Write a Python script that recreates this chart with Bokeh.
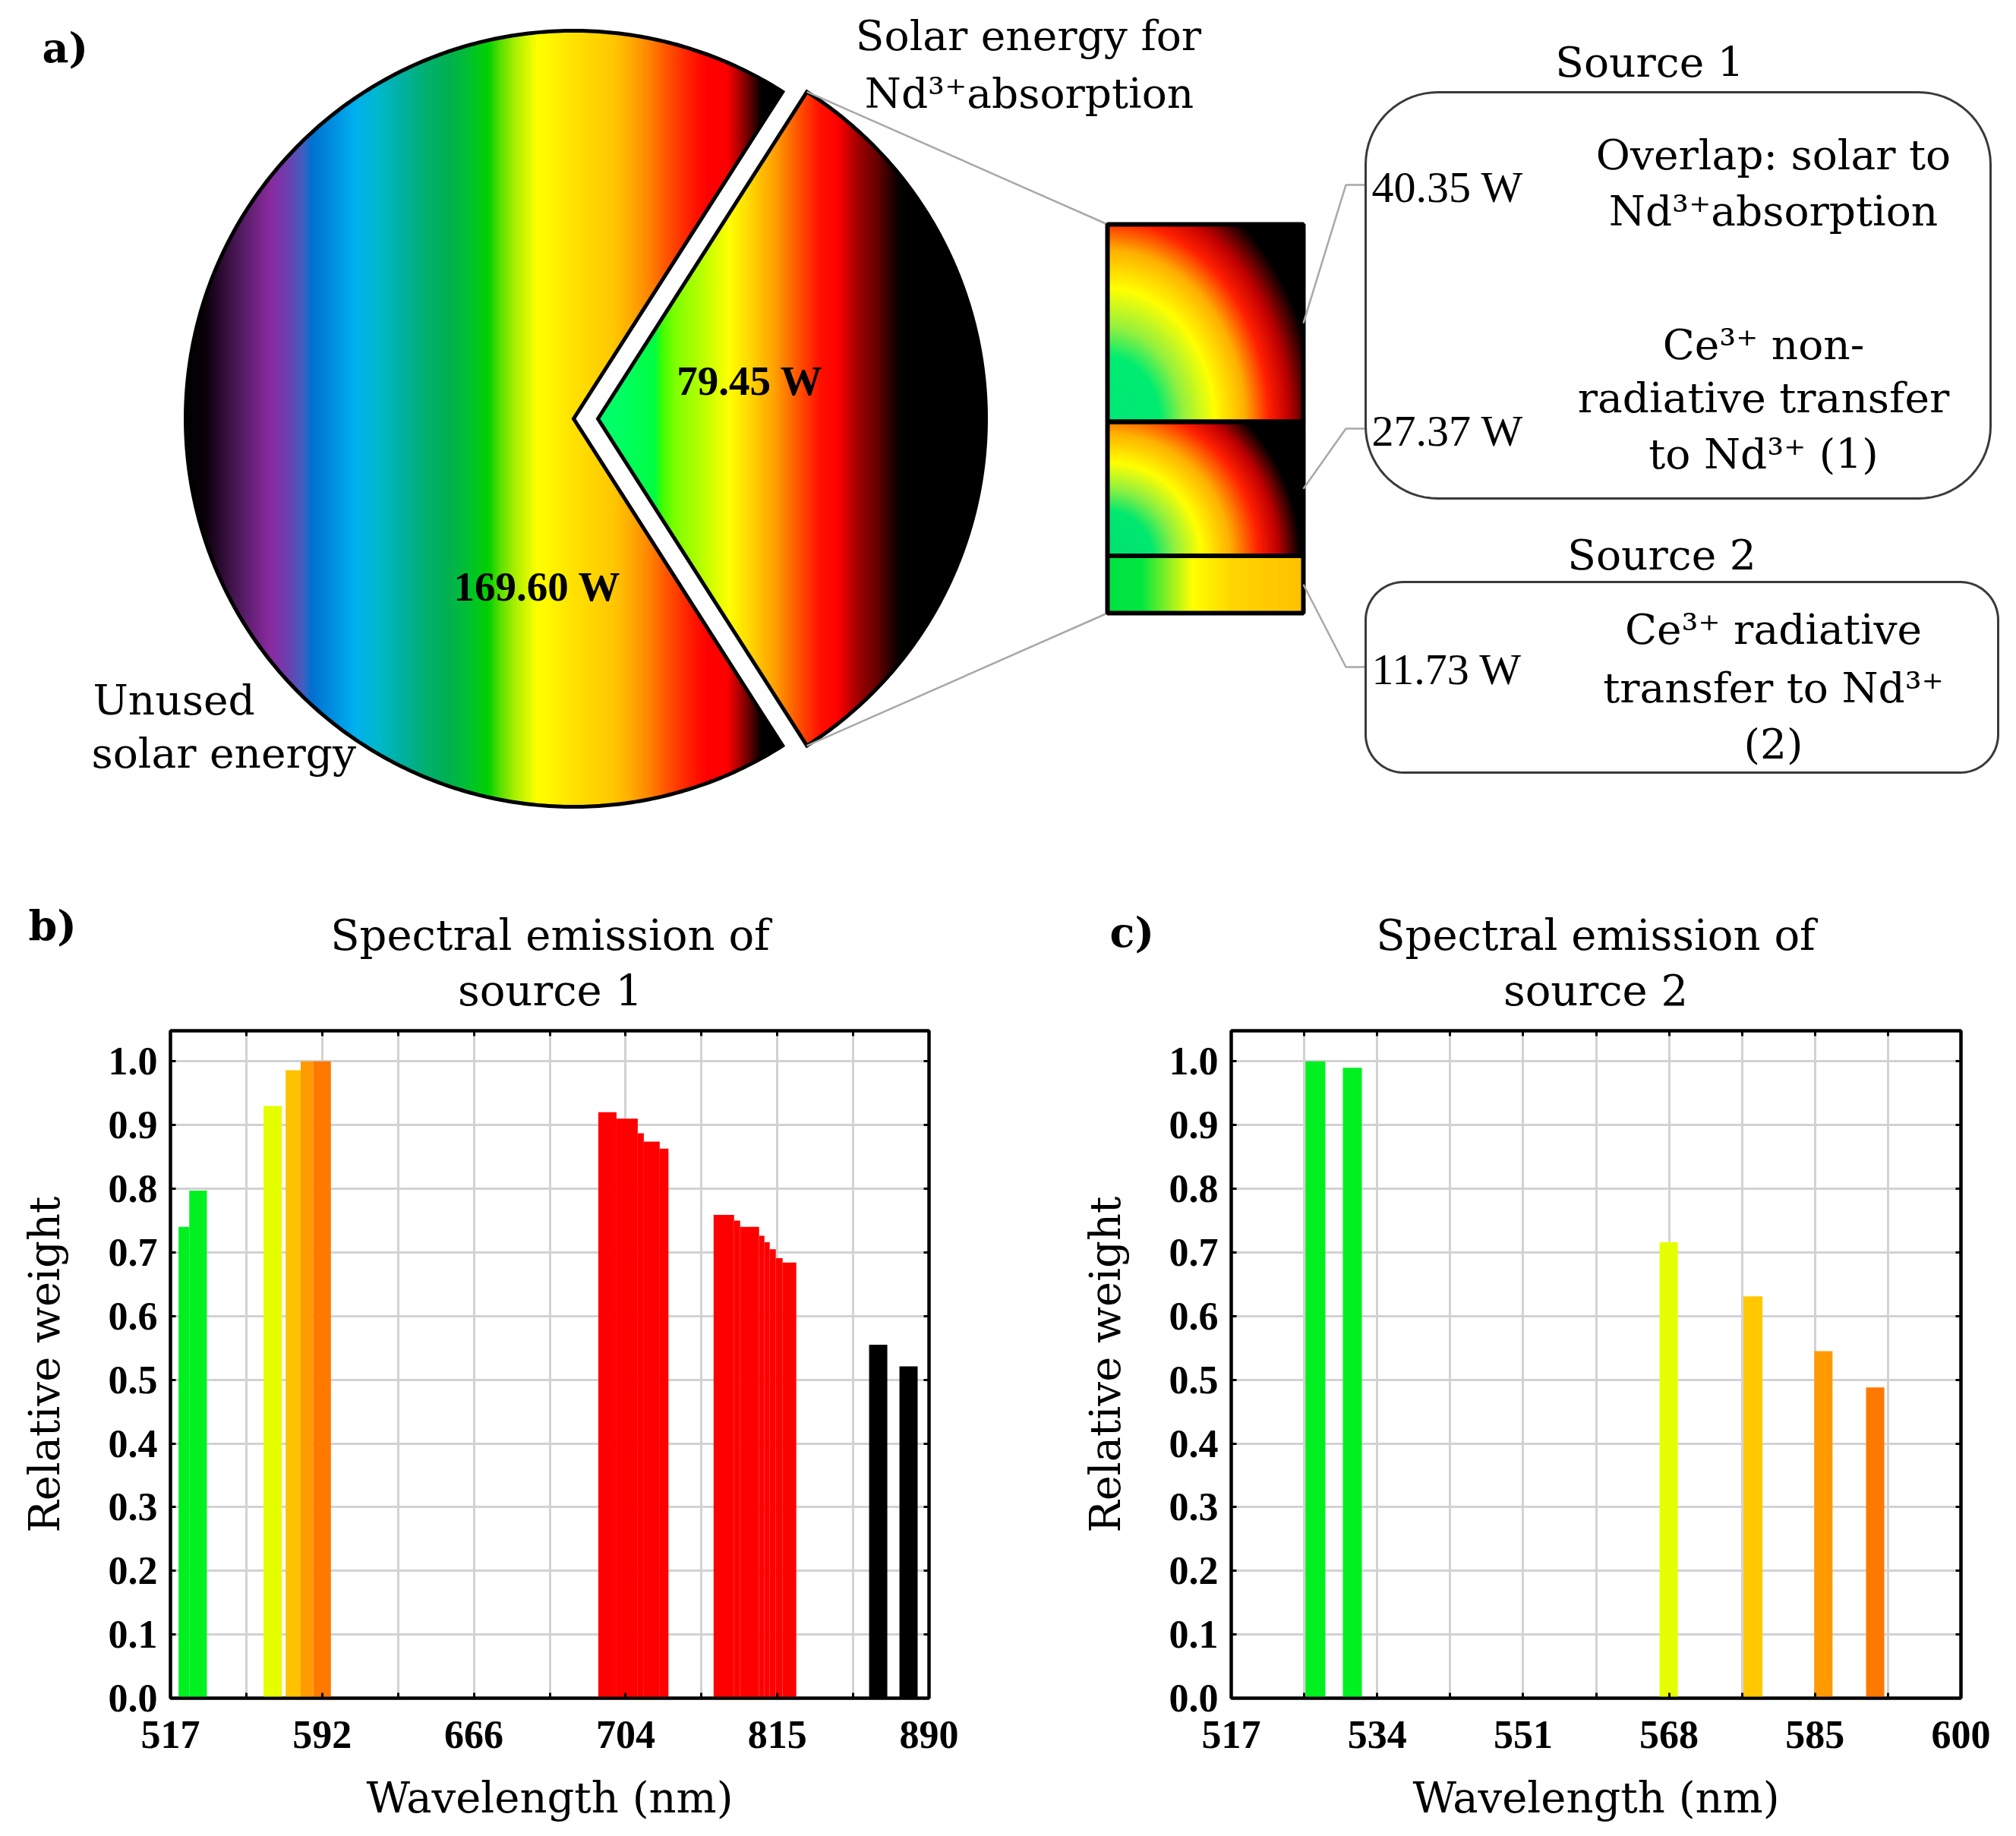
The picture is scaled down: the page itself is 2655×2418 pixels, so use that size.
import numpy as np
from bokeh.plotting import figure
from bokeh.layouts import column, row
from bokeh.models import Range1d, FixedTicker, LinearAxis, PrintfTickFormatter
from bokeh.core.properties import value
from bokeh.embed import file_html
from bokeh.resources import INLINE

# ------------------------------------------------------------------ data
pie_power_w = [169.60, 79.45]   # unused solar energy / solar energy for Nd3+ absorption
pie_label_lines = [["Unused", "solar energy"], ["Solar energy for", "Nd³⁺absorption"]]

source_power_w = [40.35, 27.37, 11.73]
source_groups = ["Source 1", "Source 2"]
source_text_lines = [["Overlap: solar to", "Nd³⁺absorption"],
                     ["Ce³⁺ non-", "radiative transfer", "to Nd³⁺ (1)"],
                     ["Ce³⁺ radiative", "transfer to Nd³⁺", "(2)"]]

panel_letters = ["a)", "b)", "c)"]
panel_titles = [["Spectral emission of", "source 1"], ["Spectral emission of", "source 2"]]

# panel b: spectral emission of source 1 (positions on the axis index scale 0..10)
b_tick_pos = [0, 2, 4, 6, 8, 10]
b_tick_labels = ["517", "592", "666", "704", "815", "890"]
b_start = [0.107, 0.248, 1.227, 1.518, 1.717, 1.882,
           5.64, 5.88, 6.16, 6.24, 6.45,
           7.16, 7.43, 7.51, 7.76, 7.83, 7.90, 7.98, 8.07,
           9.21, 9.61]
b_end = [0.248, 0.480, 1.468, 1.717, 1.882, 2.115,
         5.88, 6.16, 6.24, 6.45, 6.565,
         7.43, 7.51, 7.76, 7.83, 7.90, 7.98, 8.07, 8.25,
         9.45, 9.85]
b_weight = [0.740, 0.797, 0.930, 0.986, 1.000, 1.000,
            0.920, 0.910, 0.887, 0.874, 0.863,
            0.759, 0.750, 0.740, 0.726, 0.716, 0.705, 0.691, 0.684,
            0.555, 0.521]
b_color = ["#00f020", "#00f020", "#e5ff00", "#ffc200", "#ff9a00", "#ff7800"] + \
          ["#ff0000"] * 13 + ["#000000", "#000000"]

# panel c: spectral emission of source 2
c_tick_pos = [0, 2, 4, 6, 8, 10]
c_tick_labels = ["517", "534", "551", "568", "585", "600"]
c_start = [1.017, 1.530, 5.870, 7.020, 7.990, 8.700]
c_end = [1.290, 1.790, 6.120, 7.280, 8.240, 8.950]
c_weight = [1.000, 0.990, 0.716, 0.631, 0.545, 0.488]
c_color = ["#00f020", "#00f020", "#e5ff00", "#ffc800", "#ff9a00", "#ff7800"]

# ------------------------------------------------------------------ helpers
SERIF = "DejaVu Serif"
NUMF = "Liberation Serif"


def hex2rgb(h):
    return tuple(int(h[i:i + 2], 16) for i in (1, 3, 5))


def grad(stops, t):
    if t <= stops[0][0]:
        return stops[0][1]
    if t >= stops[-1][0]:
        return stops[-1][1]
    for (p0, c0), (p1, c1) in zip(stops, stops[1:]):
        if p0 <= t <= p1:
            f = (t - p0) / (p1 - p0) if p1 > p0 else 0
            a, b = hex2rgb(c0), hex2rgb(c1)
            return "#%02x%02x%02x" % tuple(int(round(a[i] + (b[i] - a[i]) * f)) for i in range(3))
    return stops[-1][1]


main_stops = [(243, "#000000"), (270, "#0a0008"), (290, "#2a0a30"), (323, "#5a1e6a"),
              (357, "#8a2aa0"), (380, "#6a40b0"), (400, "#4060c0"), (410, "#0070d0"),
              (440, "#0090e0"), (467, "#00b0f0"), (500, "#00b8c8"), (530, "#00b0a0"),
              (560, "#00b070"), (590, "#00b050"), (617, "#00c030"), (643, "#00d000"),
              (660, "#60e000"), (680, "#b0f000"), (708, "#ffff00"), (757, "#ffe000"),
              (807, "#ffc800"), (827, "#ffb000"), (853, "#ff8800"), (880, "#ff5000"),
              (907, "#ff2000"), (930, "#ff0000"), (957, "#ff0000"), (973, "#b00000"),
              (990, "#500000"), (1003, "#000000")]
wedge_stops = [(787, "#00ff70"), (820, "#00ff60"), (863, "#00ff40"), (872, "#40ff00"),
               (890, "#80ff00"), (920, "#b0ff00"), (960, "#ffff00"), (987, "#ffd800"),
               (1020, "#ffa000"), (1053, "#ff5000"), (1080, "#ff1000"), (1103, "#ff0000"),
               (1130, "#a00000"), (1157, "#600000"), (1180, "#100000"), (1190, "#000000")]
seg1_stops = [(0, "#00e878"), (70, "#00ec70"), (100, "#90f040"), (142, "#ffff00"),
              (182, "#ffb000"), (214, "#ff2000"), (240, "#c00000"), (275, "#000000")]
seg2_stops = [(0, "#00e070"), (60, "#00e870"), (90, "#90f040"), (124, "#ffff00"),
              (163, "#ffb000"), (200, "#ff2000"), (225, "#c00000"), (255, "#000000")]
seg3_stops = [(0, "#00e040"), (45, "#00e840"), (85, "#a0f020"), (112, "#ffff00"),
              (166, "#ffd400"), (258, "#ffc000")]

# ------------------------------------------------------------------ panel a (+ headers of b, c)
TOP_W, TOP_H = 2653, 1346
top = figure(width=TOP_W, height=TOP_H, x_range=Range1d(0, TOP_W), y_range=Range1d(TOP_H, 0),
             output_backend="svg", toolbar_location=None, x_axis_type=None, y_axis_type=None,
             min_border=0, title=None)
top.outline_line_color = None
top.background_fill_color = "white"
top.border_fill_color = "white"

CX, CY, R = 755.0, 551.0, 511.0
EXPLODE = 32.0
total = sum(pie_power_w)
theta = np.pi * pie_power_w[1] / total        # half-angle of absorbed slice


def half(dx):
    return np.sqrt(max(R * R - dx * dx, 0.0))


# main body gradient strips (whole disc, slice region later whitened)
xs, ys, cs = [], [], []
edges = np.arange(CX - R, CX + R + 0.01, 3.0)
for x0, x1 in zip(edges[:-1], edges[1:]):
    h0, h1 = half(x0 - CX), half(x1 - CX)
    xs.append([x0, x1, x1, x0])
    ys.append([CY - h0, CY - h1, CY + h1, CY + h0])
    cs.append(grad(main_stops, 0.5 * (x0 + x1)))
top.patches(xs=xs, ys=ys, fill_color=cs, line_color=cs, line_width=1)

# remove slice from main body
phi = np.linspace(-theta, theta, 200)
top.patch(x=[CX] + list(CX + (R + 8) * np.cos(phi)) + [CX],
          y=[CY] + list(CY + (R + 8) * np.sin(phi)) + [CY],
          fill_color="white", line_color="white", line_width=1)

# detached slice
AX = CX + EXPLODE
tt = np.tan(theta)
xs, ys, cs = [], [], []
edges = np.arange(0.0, R + 0.01, 3.0)
for d0, d1 in zip(edges[:-1], edges[1:]):
    h0, h1 = min(d0 * tt, half(d0)), min(d1 * tt, half(d1))
    xs.append([AX + d0, AX + d1, AX + d1, AX + d0])
    ys.append([CY - h0, CY - h1, CY + h1, CY + h0])
    cs.append(grad(wedge_stops, AX + 0.5 * (d0 + d1)))
top.patches(xs=xs, ys=ys, fill_color=cs, line_color=cs, line_width=1)

# outlines
phi_m = np.linspace(theta, 2 * np.pi - theta, 400)
top.patch(x=[CX] + list(CX + R * np.cos(phi_m)), y=[CY] + list(CY + R * np.sin(phi_m)),
          fill_color=None, line_color="black", line_width=5, line_join="miter")
phi_w = np.linspace(-theta, theta, 300)
top.patch(x=[AX] + list(AX + R * np.cos(phi_w)), y=[CY] + list(CY + R * np.sin(phi_w)),
          fill_color=None, line_color="black", line_width=5, line_join="miter")

# stacked box (split of absorbed energy)
BX0, BX1, BY0, BY1 = 1458.0, 1716.0, 295.0, 807.0
seg_h = [(BY1 - BY0) * v / sum(source_power_w) for v in source_power_w]
seg_y = [BY0, BY0 + seg_h[0], BY0 + seg_h[0] + seg_h[1], BY1]

# connector lines from slice to box
wx_top, wy_top = AX + R * np.cos(-theta), CY + R * np.sin(-theta)
wx_bot, wy_bot = AX + R * np.cos(theta), CY + R * np.sin(theta)
top.segment(x0=[wx_top, wx_bot], y0=[wy_top, wy_bot], x1=[BX0, BX0], y1=[BY0, BY1],
            line_color="#a8a8a8", line_width=2.5)


def radial_segment(x0, x1, ytop, ybot, stops, vscale):
    W, H = x1 - x0, ybot - ytop
    rmax = np.hypot(W, H / vscale) + 3
    ph = np.linspace(0, np.pi / 2, 60)
    pxs, pys, pcs = [], [], []
    for r in np.arange(rmax, 0.5, -2.5):
        u = np.minimum(r * np.cos(ph), W)
        v = np.minimum(r * vscale * np.sin(ph), H)
        pxs.append([x0] + list(x0 + u))
        pys.append([ybot] + list(ybot - v))
        pcs.append(grad(stops, r))
    top.patches(xs=pxs, ys=pys, fill_color=pcs, line_color=None)


radial_segment(BX0, BX1, seg_y[0], seg_y[1], seg1_stops, 1.25)
radial_segment(BX0, BX1, seg_y[1], seg_y[2], seg2_stops, 1.0)
xs, ys, cs = [], [], []
edges = np.arange(BX0, BX1 + 0.01, 3.0)
for x0, x1 in zip(edges[:-1], edges[1:]):
    xs.append([x0, x1 + 0.6, x1 + 0.6, x0])
    ys.append([seg_y[2], seg_y[2], seg_y[3], seg_y[3]])
    cs.append(grad(seg3_stops, 0.5 * (x0 + x1) - BX0))
top.patches(xs=xs, ys=ys, fill_color=cs, line_color=None)
top.quad(left=[BX0] * 3, right=[BX1] * 3, top=seg_y[:3], bottom=seg_y[1:],
         fill_color=None, line_color="black", line_width=6)

# value rows (y positions of the three contributions)
row_y = [246.0, 567.0, 881.0]
ELBOW_X, BOX_X0 = 1772.0, 1798.0
seg_mid = [0.5 * (seg_y[i] + seg_y[i + 1]) for i in range(3)]
top.multi_line(xs=[[BX1, ELBOW_X, BOX_X0] for _ in range(3)],
               ys=[[seg_mid[i], row_y[i] - 3, row_y[i] - 3] for i in range(3)],
               line_color="#a8a8a8", line_width=2.5)


def rounded_rect(x0, y0, x1, y1, r, n=18):
    px, py = [], []
    for ccx, ccy, a0, a1 in [(x1 - r, y0 + r, -np.pi / 2, 0), (x1 - r, y1 - r, 0, np.pi / 2),
                             (x0 + r, y1 - r, np.pi / 2, np.pi), (x0 + r, y0 + r, np.pi, 1.5 * np.pi)]:
        for a in np.linspace(a0, a1, n):
            px.append(ccx + r * np.cos(a))
            py.append(ccy + r * np.sin(a))
    return px, py


for (x0, y0, x1, y1, rr) in [(BOX_X0, 121, 2621, 656, 95), (BOX_X0, 766, 2631, 1017, 50)]:
    rx, ry = rounded_rect(x0, y0, x1, y1, rr)
    top.patch(x=rx, y=ry, fill_color="white", line_color="#3a3a3a", line_width=3)


def txt(x, y, s, size="55px", font=SERIF, style="normal", align="center"):
    top.text(x=[x], y=[y], text=[s], text_font=value(font), text_font_size=value(size),
             text_font_style=style, text_align=align, text_baseline="middle", text_color="black")


txt(55, 62, panel_letters[0], size="54px", style="bold", align="left")
txt(1354, 46, pie_label_lines[1][0])
txt(1355, 122, pie_label_lines[1][1])
txt(122, 921, pie_label_lines[0][0], align="left")
txt(120, 991, pie_label_lines[0][1], align="left")
txt(987, 501, "%.2f W" % pie_power_w[1], size="55px", font=NUMF, style="bold")
txt(707, 772, "%.2f W" % pie_power_w[0], size="55px", font=NUMF, style="bold")

txt(2172, 81, source_groups[0])
txt(2188, 730, source_groups[1])
for i in range(3):
    txt(1806, row_y[i], "%.2f W" % source_power_w[i], size="58px", font=NUMF, align="left")
desc_y = [[203, 277], [453, 523, 597], [828, 905, 979]]
desc_x = [2335, 2322, 2335]
for lines, yy, xx in zip(source_text_lines, desc_y, desc_x):
    for s, y in zip(lines, yy):
        txt(xx, y, s)

# headers of the two spectra panels
txt(37, 1218, panel_letters[1], size="54px", style="bold", align="left")
txt(1461, 1227, panel_letters[2], size="54px", style="bold", align="left")
for cxp, lines in zip([724, 2101], panel_titles):
    txt(cxp, 1231, lines[0], size="56px")
    txt(cxp, 1304, lines[1], size="56px")


# ------------------------------------------------------------------ panels b, c
def bar_panel(starts, ends, weights, colors, tick_pos, tick_labels,
              width, height, bl, br, bt, bb):
    p = figure(width=width, height=height, x_range=Range1d(0, 10), y_range=Range1d(0, 1.048),
               output_backend="svg", toolbar_location=None, title=None,
               min_border_left=bl, min_border_right=br, min_border_top=bt, min_border_bottom=bb)
    p.background_fill_color = "white"
    p.border_fill_color = "white"
    p.quad(left=starts, right=ends, bottom=0, top=weights, fill_color=colors, line_color=None)

    xticks = FixedTicker(ticks=list(tick_pos),
                         minor_ticks=[t for t in range(11) if t not in tick_pos])
    yticks = FixedTicker(ticks=[i / 10 for i in range(11)])

    xa, ya = p.xaxis[0], p.yaxis[0]
    xa.ticker = xticks
    xa.major_label_overrides = {tp: tl for tp, tl in zip(tick_pos, tick_labels)}
    ya.ticker = yticks
    ya.formatter = PrintfTickFormatter(format="%.1f")
    for ax in (xa, ya):
        ax.major_label_text_font = NUMF
        ax.major_label_text_font_style = "bold"
        ax.major_label_text_font_size = "52px"
        ax.major_label_text_color = "black"
        ax.major_tick_in = 7
        ax.major_tick_out = 0
        ax.major_tick_line_width = 3
        ax.major_tick_line_color = "black"
        ax.minor_tick_in = 7
        ax.minor_tick_out = 0
        ax.minor_tick_line_width = 3
        ax.minor_tick_line_color = "black"
        ax.axis_line_color = "black"
        ax.axis_line_width = 4
        ax.axis_label_text_font = SERIF
        ax.axis_label_text_font_size = "56px"
        ax.axis_label_text_font_style = "normal"
        ax.axis_label_text_color = "black"
    xa.major_label_standoff = 30
    ya.major_label_standoff = 17
    xa.axis_label = "Wavelength (nm)"
    xa.axis_label_standoff = 30
    ya.axis_label = "Relative weight"
    ya.axis_label_standoff = 49

    for loc, tk in (("above", xticks), ("right", yticks)):
        ax = LinearAxis(ticker=tk, major_label_text_font_size="0px", major_label_text_color=None,
                        major_label_standoff=0,
                        major_tick_in=7, major_tick_out=0, major_tick_line_width=3,
                        minor_tick_in=7, minor_tick_out=0, minor_tick_line_width=3,
                        axis_line_color="black", axis_line_width=4)
        p.add_layout(ax, loc)

    p.xgrid.ticker = xticks
    p.ygrid.ticker = yticks
    p.grid.grid_line_color = "#d2d2d2"
    p.grid.grid_line_width = 3
    p.xgrid.minor_grid_line_color = "#d2d2d2"
    p.xgrid.minor_grid_line_width = 3
    p.outline_line_color = "black"
    p.outline_line_width = 4
    return p


BOT_H = 2414 - TOP_H
pb = bar_panel(b_start, b_end, b_weight, b_color, b_tick_pos, b_tick_labels,
               1320, BOT_H, 224, 97, 1352 - TOP_H, BOT_H - (1352 - TOP_H) - 884)
pc = bar_panel(c_start, c_end, c_weight, c_color, c_tick_pos, c_tick_labels,
               1333, BOT_H, 301, 71, 1357 - TOP_H, BOT_H - (1357 - TOP_H) - 881)

layout = column(top, row(pb, pc))
open("out.html", "w").write(file_html(layout, INLINE))
